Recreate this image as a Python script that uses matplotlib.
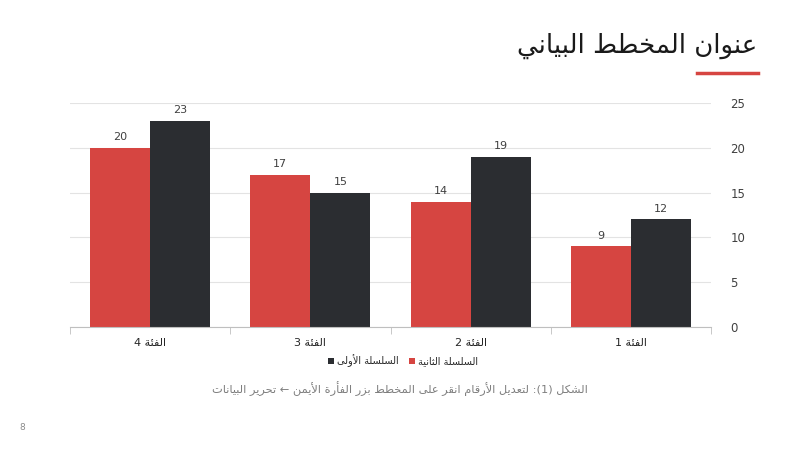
import re
import matplotlib
matplotlib.use('Agg')
import matplotlib.pyplot as plt
from matplotlib.lines import Line2D

plt.rcParams['font.family'] = ['DejaVu Sans']

title = 'عنوان المخطط البياني'
categories = ['الفئة 1', 'الفئة 2', 'الفئة 3', 'الفئة 4']
series_names = ['السلسلة الأولى', 'السلسلة الثانية']
series1 = [12, 19, 15, 23]
series2 = [9, 14, 17, 20]
yticks = [0, 5, 10, 15, 20, 25]
caption = 'الشكل (1): لتعديل الأرقام انقر على المخطط بزر الفأرة الأيمن ← تحرير البيانات'
page_no = '8'

dark = '#2B2D31'
red = '#D64541'

# minimal arabic shaping: presentation forms + right-to-left order
DUAL = {'ئ': 0xFE89, 'ب': 0xFE8F, 'ت': 0xFE95, 'ث': 0xFE99, 'ج': 0xFE9D,
        'ح': 0xFEA1, 'خ': 0xFEA5, 'س': 0xFEB1, 'ش': 0xFEB5, 'ص': 0xFEB9,
        'ض': 0xFEBD, 'ط': 0xFEC1, 'ظ': 0xFEC5, 'ع': 0xFEC9, 'غ': 0xFECD,
        'ف': 0xFED1, 'ق': 0xFED5, 'ك': 0xFED9, 'ل': 0xFEDD, 'م': 0xFEE1,
        'ن': 0xFEE5, 'ه': 0xFEE9, 'ي': 0xFEF1}
RIGHT = {'آ': 0xFE81, 'أ': 0xFE83, 'ؤ': 0xFE85, 'إ': 0xFE87, 'ا': 0xFE8D,
         'ة': 0xFE93, 'د': 0xFEA9, 'ذ': 0xFEAB, 'ر': 0xFEAD, 'ز': 0xFEAF,
         'و': 0xFEED, 'ى': 0xFEEF}
LAMALEF = {'آ': 0xFEF5, 'أ': 0xFEF7, 'إ': 0xFEF9, 'ا': 0xFEFB}
MIRROR = {'(': ')', ')': '('}


def shape(s):
    out = []
    i = 0
    n = len(s)
    while i < n:
        c = s[i]
        prev = i > 0 and s[i - 1] in DUAL
        if c == 'ل' and i + 1 < n and s[i + 1] in LAMALEF:
            out.append(chr(LAMALEF[s[i + 1]] + (1 if prev else 0)))
            i += 2
            continue
        if c in DUAL:
            nxt = i + 1 < n and (s[i + 1] in DUAL or s[i + 1] in RIGHT)
            off = 3 if (prev and nxt) else 1 if prev else 2 if nxt else 0
            out.append(chr(DUAL[c] + off))
        elif c in RIGHT:
            out.append(chr(RIGHT[c] + (1 if prev else 0)))
        else:
            out.append(c)
        i += 1
    return ''.join(out)


def ar(s):
    toks = re.findall(r'\d+|.', shape(s))
    return ''.join(MIRROR.get(t, t) for t in reversed(toks))


fig = plt.figure(figsize=(8, 4.5), dpi=100)
ax = fig.add_axes([70 / 800, 1 - 327 / 450, 641 / 800, 224 / 450])

x = [3 - i for i in range(len(categories))]
w = 0.375
b1 = ax.bar([p + w / 2 for p in x], series1, w, color=dark, label=ar(series_names[0]), zorder=3)
b2 = ax.bar([p - w / 2 for p in x], series2, w, color=red, label=ar(series_names[1]), zorder=3)

for bars, vals in ((b1, series1), (b2, series2)):
    for r, v in zip(bars, vals):
        ax.annotate(str(v), (r.get_x() + r.get_width() / 2, v), xytext=(0, 4),
                    textcoords='offset points', ha='center', va='bottom',
                    fontsize=8, color='#404040')

ax.set_xlim(-0.5, 3.5)
ax.set_ylim(0, 25)
ax.set_yticks(yticks)
ax.yaxis.tick_right()
ax.tick_params(axis='y', length=0, pad=14, labelsize=8.5, labelcolor='#404040')
ax.grid(axis='y', color='#E3E3E3', lw=0.8, zorder=0)

ax.set_xticks(x)
ax.set_xticklabels([ar(c) for c in categories])
ax.set_xticks([-0.5, 0.5, 1.5, 2.5, 3.5], minor=True)
ax.tick_params(axis='x', which='major', length=0, pad=8, labelsize=8, labelcolor='#262626')
ax.tick_params(axis='x', which='minor', length=5, color='#BFBFBF', direction='out')

for side in ('top', 'left', 'right'):
    ax.spines[side].set_visible(False)
ax.spines['bottom'].set_color('#BFBFBF')
ax.spines['bottom'].set_zorder(4)

fig.legend(handles=[b1, b2], loc='center', bbox_to_anchor=(403 / 800, 1 - 361 / 450),
           ncol=2, frameon=False, fontsize=7, handlelength=0.6, handleheight=0.6,
           handletextpad=0.3, columnspacing=1.1, labelcolor='#262626')

fig.text(757 / 800, 1 - 46 / 450, ar(title), ha='right', va='center',
         fontsize=18.7, color='#1A1A1A')
fig.add_artist(Line2D([697 / 800, 758 / 800], [1 - 73 / 450, 1 - 73 / 450],
                      color=red, lw=2.5, transform=fig.transFigure))

fig.text(400 / 800, 1 - 389 / 450, ar(caption), ha='center', va='center',
         fontsize=8.2, color='#7F7F7F')
fig.text(22 / 800, 1 - 428 / 450, page_no, ha='center', va='center',
         fontsize=6.5, color='#8C8C8C')

fig.savefig('out.png', dpi=100)
